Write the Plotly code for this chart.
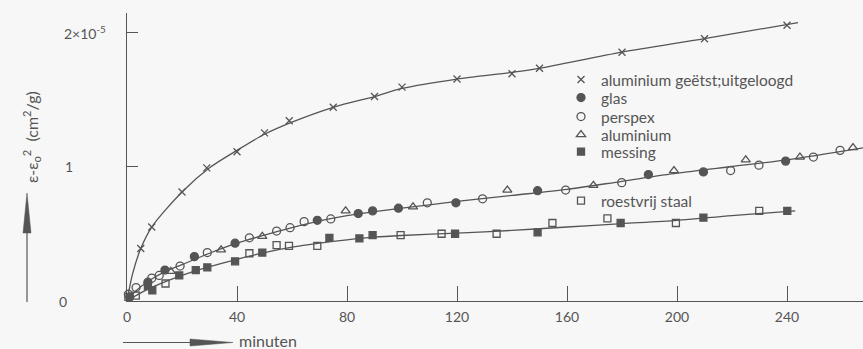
import plotly.graph_objects as go

# ---- data (y in units of 1e-5 cm^2/g, x in minutes) ----
x_alE = [5, 9, 20, 29, 40, 50, 59, 75, 90, 100, 120, 140, 150, 180, 210, 240]
y_alE = [0.39, 0.55, 0.81, 0.99, 1.11, 1.25, 1.34, 1.44, 1.52, 1.59, 1.65, 1.69, 1.73, 1.85, 1.95, 2.05]

x_glas = [1, 7.6, 13.8, 24.5, 39.3, 69.2, 84.1, 89.3, 98.7, 119.6, 149.3, 189.6, 209.6, 239.5]
y_glas = [0.03, 0.14, 0.23, 0.33, 0.43, 0.60, 0.65, 0.67, 0.69, 0.73, 0.82, 0.94, 0.96, 1.04]

x_persp = [0.5, 3.3, 9, 11.7, 19.3, 29.2, 44.5, 54.4, 59.3, 64.4, 74.1, 109.2, 129.3, 159.5, 179.9, 219.5, 229.8, 249.6, 259.3]
y_persp = [0.05, 0.10, 0.17, 0.19, 0.26, 0.36, 0.47, 0.52, 0.545, 0.59, 0.61, 0.73, 0.76, 0.825, 0.88, 0.97, 1.01, 1.07, 1.12]

x_alu = [15.9, 34.2, 49.2, 79.5, 104, 138.3, 169.6, 198.9, 225, 244.7, 264]
y_alu = [0.22, 0.38, 0.48, 0.67, 0.70, 0.825, 0.86, 0.97, 1.05, 1.07, 1.14]

x_mess = [7.6, 9.2, 19, 25, 29.2, 39.3, 49.2, 73.6, 84.5, 89.3, 119.3, 149.3, 179.5, 209.6, 240.1]
y_mess = [0.11, 0.08, 0.19, 0.23, 0.25, 0.295, 0.36, 0.47, 0.465, 0.49, 0.50, 0.51, 0.58, 0.62, 0.67]

x_staal = [0.5, 3.2, 14, 44.5, 54.4, 58.9, 69.2, 99.5, 114.4, 134.4, 154.7, 174.7, 199.6, 229.9]
y_staal = [0.03, 0.04, 0.13, 0.355, 0.415, 0.41, 0.41, 0.49, 0.50, 0.50, 0.58, 0.615, 0.58, 0.67]

# hand-drawn fit curves
cx_top = [0, 2, 5, 9, 20, 30, 40, 50, 60, 75, 90, 100, 120, 140, 150, 180, 210, 244]
cy_top = [0, 0.2, 0.39, 0.55, 0.81, 0.99, 1.12, 1.24, 1.33, 1.44, 1.52, 1.58, 1.65, 1.70, 1.73, 1.85, 1.95, 2.07]

cx_mid = [0, 3, 8, 14, 20, 30, 40, 50, 60, 70, 80, 90, 100, 120, 140, 160, 180, 200, 220, 240, 268]
cy_mid = [0, 0.07, 0.15, 0.22, 0.27, 0.355, 0.43, 0.49, 0.545, 0.595, 0.635, 0.665, 0.69, 0.74, 0.785, 0.83, 0.89, 0.95, 1.0, 1.05, 1.14]

cx_low = [0, 5, 10, 20, 30, 40, 50, 60, 70, 80, 90, 100, 120, 140, 160, 180, 200, 220, 243]
cy_low = [0, 0.06, 0.11, 0.19, 0.255, 0.31, 0.36, 0.40, 0.43, 0.455, 0.475, 0.487, 0.505, 0.525, 0.55, 0.575, 0.60, 0.635, 0.67]

x_ticks = [0, 40, 80, 120, 160, 200, 240]
y_ticks = [0, 1, 2]
y_ticktext = ["0", "1", "2×10<sup>-5</sup>"]

names = ["aluminium geëtst;uitgeloogd", "glas", "perspex", "aluminium", "messing", "roestvrij staal"]

# ---- styling / layout (pixels) ----
INK = "#555555"
BG = "#f7f7f7"
FONT = "Lato"
W, H = 863, 349
L, R, T, B = 127, 0, 13, 48
PW, PH = W - L - R, H - T - B
y_tick_px = [57, 63, 62]                 # left edge of y tick texts
legend_rows_px = [80, 98, 117, 135, 152, 201]  # centre of each legend row
legend_left_px = 561

def px2paper_x(p):
    return (p - L) / PW

def px2paper_y(p):
    return (H - B - p) / PH

fig = go.Figure()

for cx, cy in [(cx_top, cy_top), (cx_mid, cy_mid), (cx_low, cy_low)]:
    fig.add_trace(go.Scatter(x=cx, y=cy, mode="lines", line=dict(color=INK, width=1.3, shape="spline", smoothing=0.8),
                             showlegend=False, hoverinfo="skip", cliponaxis=False))

styles = [
    ("x-thin", 7, None),
    ("circle", 8, INK),
    ("circle-open", 8, None),
    ("triangle-up-open", 8, None),
    ("square", 7, INK),
    ("square-open", 7, None),
]
data = [(x_alE, y_alE), (x_glas, y_glas), (x_persp, y_persp), (x_alu, y_alu), (x_mess, y_mess), (x_staal, y_staal)]

legend_layouts = {}
for i, ((xs, ys), (sym, size, fill), nm) in enumerate(zip(data, styles, names)):
    lg = "legend" if i == 0 else f"legend{i + 1}"
    fig.add_trace(go.Scatter(
        x=xs, y=ys, mode="markers", name=nm, legend=lg, cliponaxis=False,
        marker=dict(symbol=sym, size=size, color=fill if fill else INK,
                    line=dict(color=INK, width=1.3)),
    ))
    legend_layouts[lg] = dict(x=px2paper_x(legend_left_px), y=px2paper_y(legend_rows_px[i]),
                              xanchor="left", yanchor="middle", bgcolor="rgba(0,0,0,0)",
                              font=dict(family=FONT, size=15.5, color=INK), itemwidth=30)

ann = []
for v, t, p in zip(y_ticks, y_ticktext, y_tick_px):
    ann.append(dict(x=px2paper_x(p), xref="paper", y=v, yref="y", text=t, showarrow=False,
                    xanchor="left", yanchor="middle", font=dict(family=FONT, size=14, color=INK)))

ann.append(dict(x=px2paper_x(31), xref="paper", y=px2paper_y(137), yref="paper",
                text="ε-ε<sub>o</sub><sup>2</sup>  (cm<sup>2</sup>/g)", textangle=-90, showarrow=False,
                xanchor="center", yanchor="middle", font=dict(family=FONT, size=16, color=INK)))
ann.append(dict(x=px2paper_x(237), xref="paper", y=px2paper_y(340), yref="paper",
                text="minuten", showarrow=False, xanchor="left", yanchor="middle",
                font=dict(family=FONT, size=16, color=INK)))

shapes = [
    dict(type="line", xref="paper", yref="paper", x0=px2paper_x(123), x1=px2paper_x(200),
         y0=px2paper_y(342.5), y1=px2paper_y(342.5), line=dict(color=INK, width=1.2)),
    dict(type="path", xref="paper", yref="paper", fillcolor=INK, line=dict(color=INK, width=0.5),
         path=f"M {px2paper_x(190)},{px2paper_y(339)} L {px2paper_x(233)},{px2paper_y(342.5)} L {px2paper_x(190)},{px2paper_y(346)} Z"),
    dict(type="line", xref="paper", yref="paper", x0=px2paper_x(27), x1=px2paper_x(27),
         y0=px2paper_y(302), y1=px2paper_y(225), line=dict(color=INK, width=1.2)),
    dict(type="path", xref="paper", yref="paper", fillcolor=INK, line=dict(color=INK, width=0.5),
         path=f"M {px2paper_x(23)},{px2paper_y(233)} L {px2paper_x(27)},{px2paper_y(193)} L {px2paper_x(31)},{px2paper_y(233)} Z"),
]

fig.update_layout(
    width=W, height=H,
    margin=dict(l=L, r=R, t=T, b=B, pad=0),
    paper_bgcolor=BG, plot_bgcolor=BG,
    font=dict(family=FONT, size=14, color=INK),
    annotations=ann, shapes=shapes,
    xaxis=dict(range=[0, PW / 2.75], showgrid=False, zeroline=False, showline=True, linecolor=INK, linewidth=1.2,
               ticks="inside", ticklen=15, tickcolor=INK, tickwidth=1.2, tickvals=x_ticks,
               tickfont=dict(family=FONT, size=14, color=INK), ticklabelstandoff=3),
    yaxis=dict(range=[0, PH / 134.5], showgrid=False, zeroline=False, showline=True, linecolor=INK, linewidth=1.2,
               ticks="inside", ticklen=11, tickcolor=INK, tickwidth=1.2, tickvals=y_ticks, showticklabels=False),
    **legend_layouts,
)

fig.write_html("out.html")
